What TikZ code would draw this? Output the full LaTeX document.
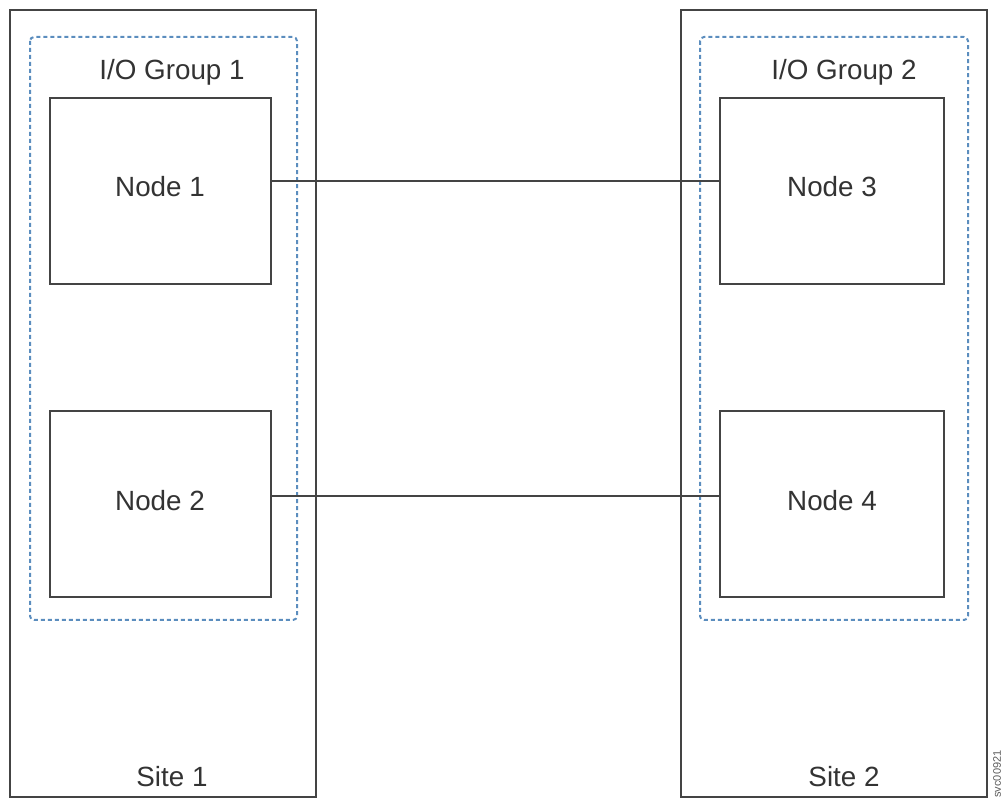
\documentclass[tikz,border=0pt]{standalone}
\usepackage{fontspec}
\setmainfont{Liberation Sans}
\definecolor{edge}{HTML}{444444}
\definecolor{grpblue}{HTML}{5B8DBE}
\definecolor{txt}{HTML}{333333}
\begin{document}
\begin{tikzpicture}[x=0.5pt,y=-0.5pt,
  sitebox/.style={draw=edge,line width=1pt},
  grpbox/.style={draw=grpblue,line width=1pt,dash pattern=on 2pt off 1.5pt,rounded corners=2pt},
  nodebox/.style={draw=edge,line width=1pt},
  lbl/.style={font=\fontsize{13.9}{16}\selectfont,text=txt,inner sep=0pt},
  link/.style={draw=edge,line width=1pt}]
\useasboundingbox (0,0) rectangle (1003,802);
\draw[sitebox] (10,10) rectangle (316,797);
\draw[sitebox] (681,10) rectangle (987,797);
\draw[grpbox] (30,37) rectangle (297,620);
\draw[grpbox] (700,37) rectangle (968,620);
\node[nodebox,minimum width=110.5pt,minimum height=93pt,inner sep=0pt] (n1) at (160.5,191) {};
\node[nodebox,minimum width=110.5pt,minimum height=93pt,inner sep=0pt] (n2) at (160.5,504.5) {};
\node[nodebox,minimum width=112pt,minimum height=93pt,inner sep=0pt] (n3) at (832,191) {};
\node[nodebox,minimum width=112pt,minimum height=93pt,inner sep=0pt] (n4) at (832,504.5) {};
\node[lbl] (t1) at (160,187) {Node 1};
\node[lbl] (t2) at (160,501) {Node 2};
\node[lbl] (t3) at (832,187) {Node 3};
\node[lbl] (t4) at (832,501) {Node 4};
\node[lbl] (g1) at (172,72) {I/O Group 1};
\node[lbl] (g2) at (844,72) {I/O Group 2};
\node[lbl] (s1) at (172,777) {Site 1};
\node[lbl] (s2) at (844,777) {Site 2};
\draw[link] (n1.east |- 0,181) -- (n3.west |- 0,181);
\draw[link] (n2.east |- 0,496) -- (n4.west |- 0,496);
\node[font=\fontsize{5.5}{6}\selectfont,text=txt!80,rotate=90,anchor=west,inner sep=0pt] (id) at (997,798) {svc00921};
\end{tikzpicture}
\end{document}
